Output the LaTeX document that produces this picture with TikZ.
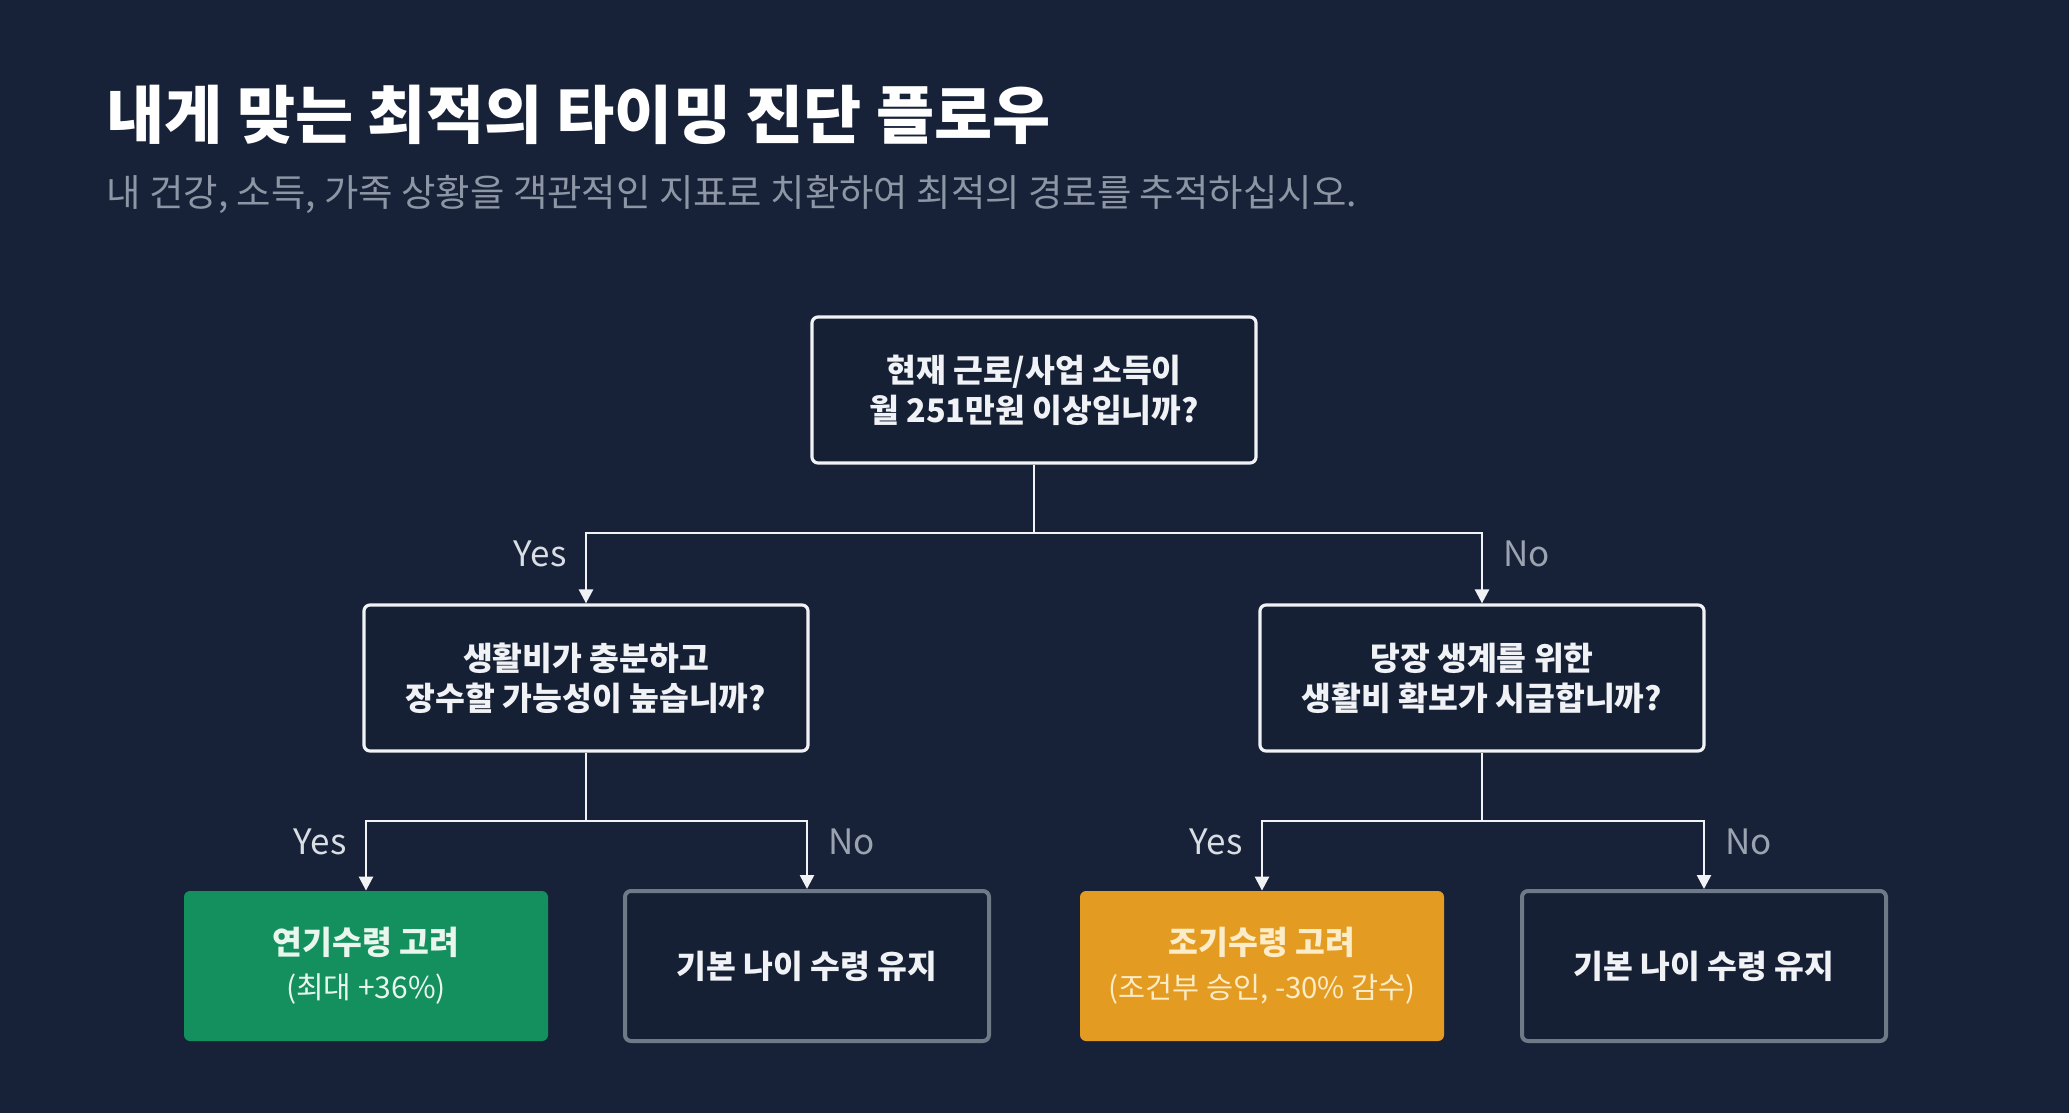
\documentclass[tikz,border=0pt]{standalone}
\usepackage{fontspec}
\setmainfont{Noto Sans CJK KR}
\usetikzlibrary{positioning,arrows.meta}

\definecolor{bgnavy}{HTML}{172238}
\definecolor{boxnavy}{HTML}{152035}
\definecolor{linewhite}{HTML}{F0F2F5}
\definecolor{edgegray}{HTML}{6F7A89}
\definecolor{subgray}{HTML}{8D96A5}
\definecolor{nogray}{HTML}{9AA3AF}
\definecolor{yesgray}{HTML}{D9DEE5}
\definecolor{delaygreen}{HTML}{13905E}
\definecolor{delaytext}{HTML}{E8F6EE}
\definecolor{earlyorange}{HTML}{E39B21}
\definecolor{earlytext}{HTML}{FCECC8}

\tikzset{
  question/.style={draw=linewhite, line width=1.6pt, rounded corners=3pt, fill=boxnavy,
    text=linewhite, minimum width=222pt, minimum height=73pt, align=center,
    font=\bfseries\fontsize{16.2}{20}\selectfont},
  result/.style={rounded corners=3pt, minimum width=182pt, minimum height=75pt,
    align=center, font=\fontsize{16.2}{22}\selectfont},
  keep/.style={result, draw=edgegray, line width=2pt, fill=boxnavy, text=linewhite,
    font=\bfseries\fontsize{16.2}{22}\selectfont},
  flow/.style={draw=linewhite, line width=1.3pt, -{Triangle[width=7pt,length=7pt]}},
  trunk/.style={draw=linewhite, line width=1.3pt},
  yeslab/.style={inner sep=0pt, text=yesgray, font=\fontsize{17.5}{20}\selectfont},
  nolab/.style={inner sep=0pt, text=nogray, font=\fontsize{17.5}{20}\selectfont}
}

\begin{document}
\begin{tikzpicture}[x=0.5pt,y=-0.5pt]
  \fill[bgnavy] (0,0) rectangle (2069,1113);

  % heading
  \node[anchor=west, inner sep=0pt, text=white, font=\bfseries\fontsize{31.6}{36}\selectfont]
    (title) at (106,115) {내게 맞는 최적의 타이밍 진단 플로우};
  \node[anchor=west, inner sep=0pt, text=subgray, font=\fontsize{18.7}{22}\selectfont]
    (subtitle) at (106,194) {내 건강, 소득, 가족 상황을 객관적인 지표로 치환하여 최적의 경로를 추적하십시오.};

  % questions
  \node[question] (income) at (1034,390) {현재 근로/사업 소득이\\월 251만원 이상입니까?};
  \node[question] (living) at (586,678)  {생활비가 충분하고\\장수할 가능성이 높습니까?};
  \node[question] (urgent) at (1482,678) {당장 생계를 위한\\생활비 확보가 시급합니까?};

  % outcomes
  \node[result, fill=delaygreen, text=delaytext] (delay) at (366,966)
    {{\bfseries 연기수령 고려}\\{\fontsize{15}{18}\selectfont (최대 +36\%)}};
  \node[keep] (keepa) at (807,966) {기본 나이 수령 유지};
  \node[result, fill=earlyorange, text=earlytext] (early) at (1262,966)
    {{\bfseries 조기수령 고려}\\{\fontsize{14.7}{18}\selectfont (조건부 승인, -30\% 감수)}};
  \node[keep] (keepb) at (1704,966) {기본 나이 수령 유지};

  % branches
  \coordinate (split)  at (1034,533);
  \coordinate (splitl) at (586,821);
  \coordinate (splitr) at (1482,821);

  \draw[trunk] (income) -- (split);
  \draw[flow] (split) -| node[yeslab, pos=0.65, left=9pt] {Yes} (living);
  \draw[flow] (split) -| node[nolab, pos=0.65, right=10pt] {No} (urgent);

  \draw[trunk] (living) -- (splitl);
  \draw[flow] (splitl) -| node[yeslab, pos=0.65, left=9pt] {Yes} (delay);
  \draw[flow] (splitl) -| node[nolab, pos=0.65, right=10pt] {No} (keepa);

  \draw[trunk] (urgent) -- (splitr);
  \draw[flow] (splitr) -| node[yeslab, pos=0.65, left=9pt] {Yes} (early);
  \draw[flow] (splitr) -| node[nolab, pos=0.65, right=10pt] {No} (keepb);
\end{tikzpicture}
\end{document}
